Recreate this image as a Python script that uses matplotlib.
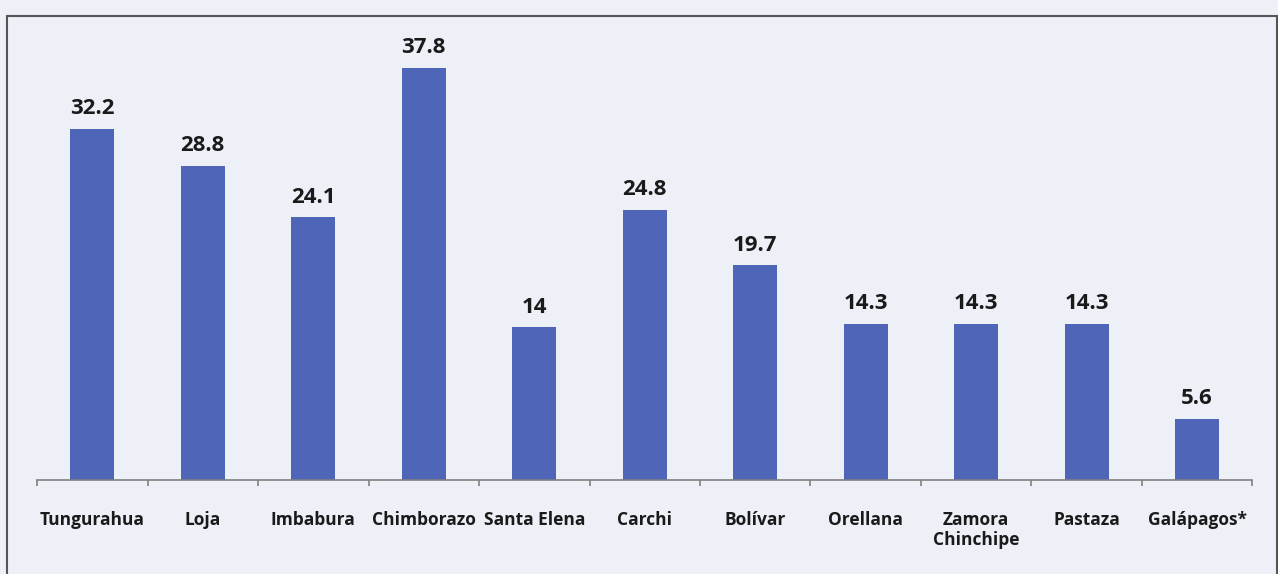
import matplotlib.pyplot as plt
from matplotlib.patches import Rectangle

provinces = ["Tungurahua", "Loja", "Imbabura", "Chimborazo", "Santa Elena", "Carchi",
             "Bolívar", "Orellana", "Zamora\nChinchipe", "Pastaza", "Galápagos*"]
values = [32.2, 28.8, 24.1, 37.8, 14, 24.8, 19.7, 14.3, 14.3, 14.3, 5.6]
value_labels = ["32.2", "28.8", "24.1", "37.8", "14", "24.8", "19.7", "14.3", "14.3", "14.3", "5.6"]

bg = "#edf0f7"
bar_color = "#4f66b8"

plt.rcParams["font.family"] = ["Open Sans", "DejaVu Sans"]

fig = plt.figure(figsize=(12.78, 5.74), dpi=100, facecolor=bg)
ax = fig.add_axes([0.029, 0.1638, 0.951, 0.7596])
ax.set_facecolor("none")

x = list(range(len(provinces)))
bars = ax.bar(x, values, width=0.4, color=bar_color, zorder=2)

for b, lab in zip(bars, value_labels):
    ax.annotate(lab, (b.get_x() + b.get_width() / 2, b.get_height()),
                xytext=(0, 7), textcoords="offset points",
                ha="center", va="bottom", fontsize=16, fontweight="bold", color="#1a1a1a")

ax.set_xlim(-0.5, len(provinces) - 0.5)
ax.set_ylim(0, 40)
ax.set_xticks(x)
ax.set_xticklabels(provinces, fontsize=12.5, fontweight="bold", color="#1a1a1a",
                   va="top", linespacing=1.2)
ax.set_xticks([i - 0.5 for i in range(len(provinces) + 1)], minor=True)
ax.tick_params(axis="x", which="major", length=0, pad=22)
ax.tick_params(axis="x", which="minor", length=4.5, width=1.2, color="#808080", direction="out")
ax.set_yticks([])

for side in ("top", "right", "left"):
    ax.spines[side].set_visible(False)
ax.spines["bottom"].set_color("#808080")
ax.spines["bottom"].set_linewidth(1.2)

# outer frame around the chart
frame = Rectangle((7 / 1278, -0.05), (1277 - 7) / 1278, 1.05 - 16 / 574,
                  transform=fig.transFigure, fill=False, edgecolor="#555555", linewidth=1.5)
fig.patches.append(frame)

fig.savefig("out.png", dpi=100, facecolor=bg)
